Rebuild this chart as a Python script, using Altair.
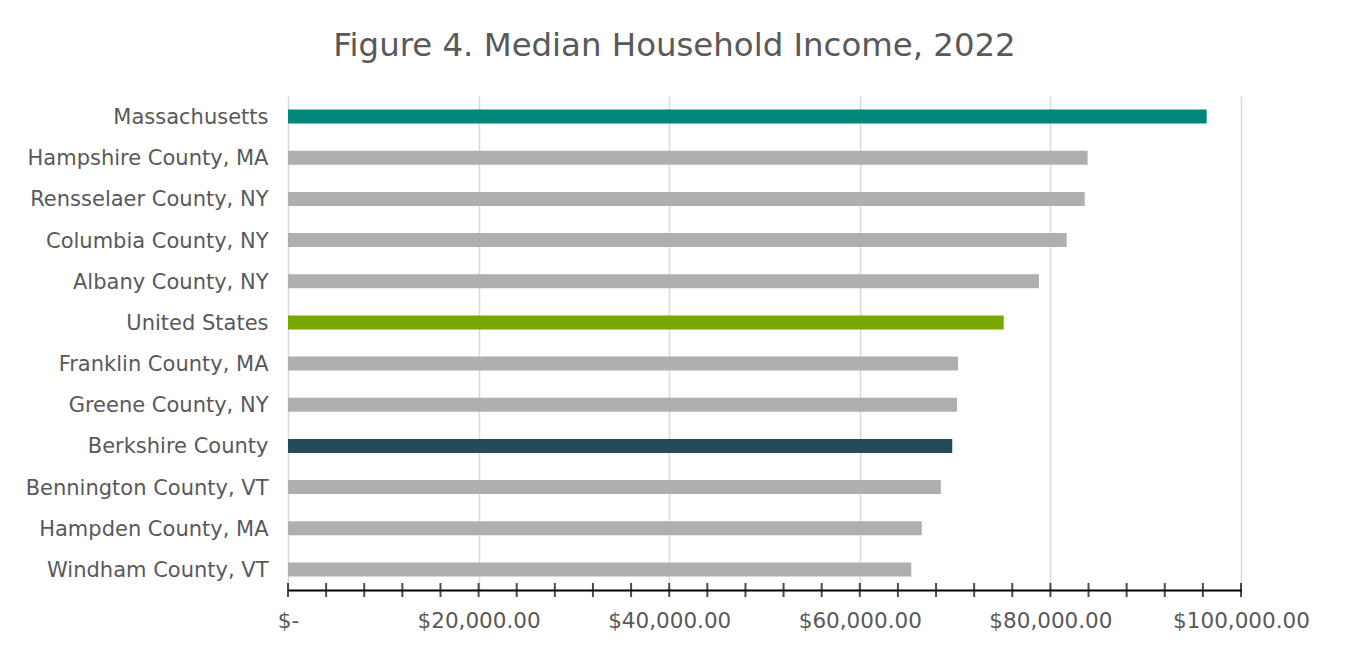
import altair as alt
import pandas as pd

places = ["Massachusetts", "Hampshire County, MA", "Rensselaer County, NY",
          "Columbia County, NY", "Albany County, NY", "United States",
          "Franklin County, MA", "Greene County, NY", "Berkshire County",
          "Bennington County, VT", "Hampden County, MA", "Windham County, VT"]
incomes = [96400, 83900, 83600, 81700, 78800, 75100,
           70300, 70200, 69700, 68500, 66500, 65400]
groups = ["state", "other", "other", "other", "other", "nation",
          "other", "other", "berkshire", "other", "other", "other"]

group_names = ["state", "nation", "berkshire", "other"]
group_colors = ["#00867A", "#78A800", "#254B5A", "#AFAFB0"]

df = pd.DataFrame({"place": places, "income": incomes, "group": groups})

font = "DejaVu Sans"

x_scale = alt.Scale(domain=[0, 100000], nice=False)
x_axis = alt.Axis(values=list(range(0, 100001, 20000)),
                  labelExpr="datum.value == 0 ? '$-' : '$' + format(datum.value, ',.2f')",
                  labelFontSize=21.5, labelColor="#595959", labelFont=font,
                  labelFlush=False, labelOverlap=False, labelBound=False,
                  labelPadding=20, domainColor="#000000", domainWidth=2,
                  ticks=False, grid=True, gridColor="#D9D9D9", gridWidth=1.5)

bars = alt.Chart(df).mark_bar(size=14).encode(
    y=alt.Y("place:N", sort=places, title=None,
            scale=alt.Scale(paddingInner=0.66, paddingOuter=0.33),
            axis=alt.Axis(labelFontSize=21, labelColor="#595959", labelFont=font,
                          labelLimit=400, ticks=False, domain=False, labelOffset=1.5,
                          labelPadding=20, grid=False)),
    x=alt.X("income:Q", title=None, scale=x_scale, axis=x_axis),
    color=alt.Color("group:N", scale=alt.Scale(domain=group_names, range=group_colors),
                    legend=None),
)

tick_vals = pd.DataFrame({"v": list(range(0, 100001, 4000))})
minor = alt.Chart(tick_vals).mark_tick(color="#000000", thickness=2, size=14,
                                        orient="vertical").encode(
    x=alt.X("v:Q", title=None, scale=x_scale, axis=x_axis),
    y=alt.value(494),
)

chart = alt.layer(bars, minor).properties(
    width=953, height=494,
    title=alt.TitleParams("Figure 4. Median Household Income, 2022", fontSize=32.4,
                          font=font, fontWeight="normal", color="#595959",
                          anchor="middle", dx=-90, offset=34),
    autosize=alt.AutoSizeParams(type="none"),
    padding={"left": 280, "top": 88, "right": 96, "bottom": 50},
).configure(background="#FFFFFF").configure_view(strokeWidth=0, stroke="transparent")

chart.save("out.html", embed_options={"renderer": "svg", "actions": False})
